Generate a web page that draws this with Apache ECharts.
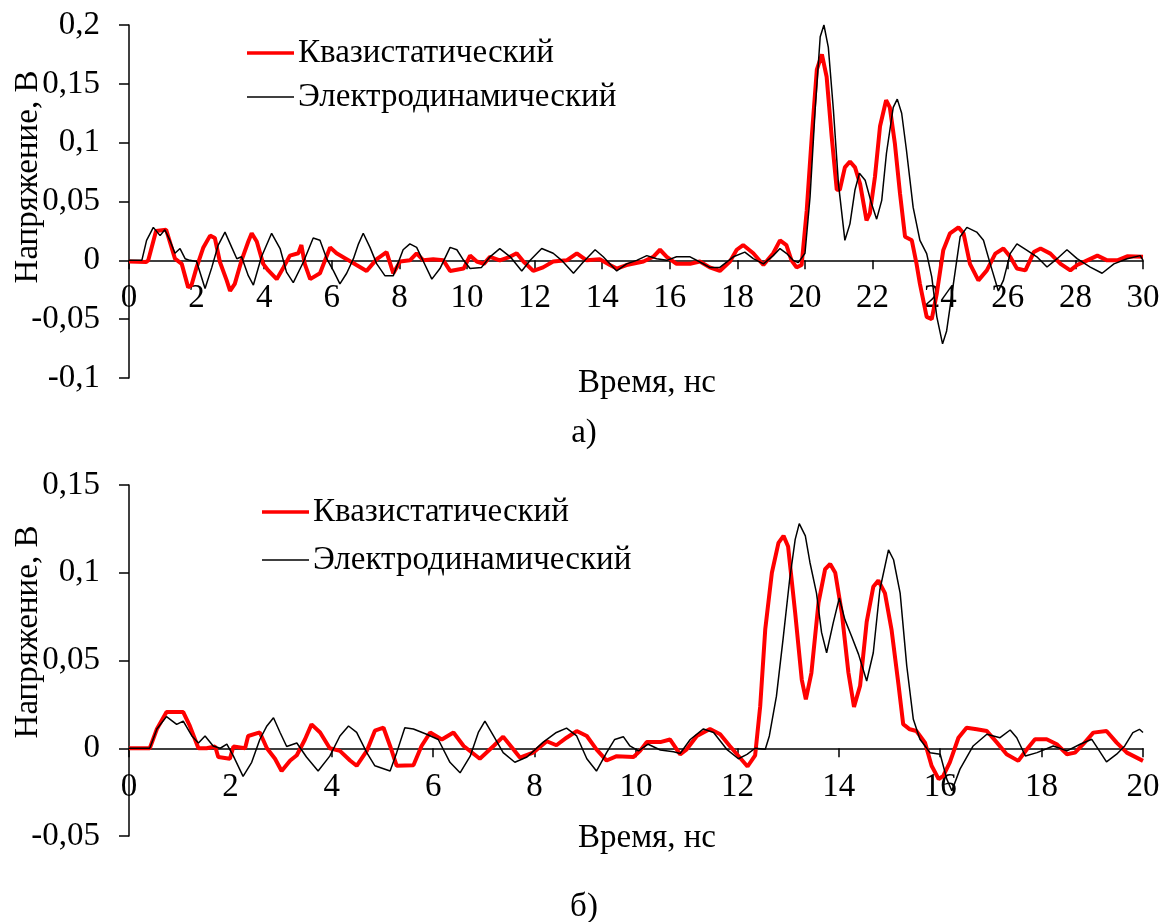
<!DOCTYPE html>
<html>
<head>
<meta charset="utf-8">
<script src="https://cdn.jsdelivr.net/npm/echarts@6/dist/echarts.min.js"></script>
<style>
html,body{margin:0;padding:0;background:#fff;}
#c{width:1169px;height:922px;}
</style>
</head>
<body>
<div id="c"></div>
<script>
// ---- Chart а) ----
const quasiA_t = [0,0.5,0.57,0.8,1.1,1.36,1.56,1.75,1.85,2.0,2.2,2.4,2.54,2.69,2.89,2.99,3.13,3.33,3.53,3.63,3.78,3.97,4.12,4.37,4.57,4.76,5.01,5.1,5.2,5.36,5.65,5.95,6.14,6.44,6.73,7.03,7.33,7.62,7.82,8.02,8.31,8.51,8.71,9.0,9.3,9.5,9.9,10.09,10.29,10.5,10.68,10.97,11.27,11.47,11.67,11.96,12.25,12.55,12.95,13.25,13.54,13.93,14.23,14.43,14.72,15.22,15.51,15.71,15.91,16.2,16.6,16.89,17.18,17.48,17.78,17.98,18.17,18.47,18.77,19.06,19.26,19.45,19.6,19.75,19.9,20.05,20.2,20.35,20.5,20.64,20.79,20.94,21.03,21.18,21.33,21.48,21.63,21.82,21.92,22.07,22.22,22.4,22.51,22.66,22.81,22.96,23.16,23.3,23.4,23.6,23.75,23.9,24.09,24.29,24.54,24.69,24.88,25.13,25.38,25.63,25.87,26.07,26.27,26.52,26.77,26.97,27.26,27.56,27.85,28.05,28.35,28.65,28.94,29.24,29.53,30];
const quasiA_v = [-0.001,-0.0015,0.0,0.025,0.026,0.0014,-0.003,-0.023,-0.021,-0.006,0.011,0.021,0.019,-0.0014,-0.017,-0.026,-0.02,0,0.016,0.023,0.016,-0.003,-0.0086,-0.016,-0.006,0.004,0.006,0.013,-0.003,-0.016,-0.011,0.011,0.006,0.001,-0.004,-0.009,0.001,0.007,-0.011,-0.001,0,0.006,0,0.001,0,-0.009,-0.007,0.004,-0.001,-0.003,0.003,0,0.003,0.006,-0.001,-0.009,-0.006,-0.001,0,0.006,0,0.001,-0.004,-0.007,-0.004,-0.001,0.003,0.009,0.003,-0.003,-0.003,-0.001,-0.006,-0.009,-0.001,0.009,0.013,0.006,-0.004,0.006,0.017,0.013,0.0,-0.006,-0.004,0.042,0.105,0.162,0.175,0.156,0.105,0.06,0.06,0.079,0.084,0.079,0.065,0.034,0.04,0.071,0.114,0.136,0.13,0.099,0.057,0.02,0.017,-0.003,-0.02,-0.048,-0.05,-0.028,0.0085,0.023,0.028,0.023,-0.003,-0.017,-0.0085,0.0057,0.01,0.003,-0.007,-0.0085,0.007,0.01,0.0057,-0.003,-0.0085,-0.004,0,0.004,0,0,0.0034,0.003];

const electroA_t = [0,0.38,0.52,0.72,0.92,1.06,1.21,1.36,1.51,1.66,1.8,2.0,2.25,2.45,2.64,2.84,3.04,3.19,3.33,3.53,3.68,3.92,4.22,4.47,4.66,4.86,5.16,5.45,5.65,5.85,6.05,6.24,6.44,6.64,6.79,6.93,7.13,7.33,7.57,7.82,8.11,8.31,8.51,8.71,8.96,9.2,9.5,9.7,9.9,10.09,10.43,10.68,10.97,11.28,11.62,11.87,12.21,12.55,12.8,13.15,13.44,13.79,14.03,14.43,14.72,15.02,15.32,15.61,15.91,16.2,16.6,16.89,17.18,17.48,17.88,18.22,18.47,18.77,19.06,19.26,19.45,19.65,19.8,20.0,20.15,20.3,20.45,20.56,20.69,20.84,20.99,21.18,21.33,21.48,21.61,21.78,21.97,22.12,22.27,22.41,22.61,22.73,22.86,23.0,23.2,23.4,23.6,23.75,23.9,24.07,24.19,24.39,24.59,24.79,25.08,25.28,25.48,25.72,25.87,26.07,26.27,26.57,26.86,27.16,27.46,27.75,28.05,28.44,28.79,29.14,29.53,29.92,30];
const electroA_v = [0,0,0.017,0.028,0.021,0.026,0.017,0.006,0.01,0.0014,0,-0.001,-0.024,-0.006,0.013,0.024,0.011,0.0014,0.003,-0.013,-0.021,0.003,0.023,0.01,-0.01,-0.019,-0.0014,0.019,0.017,0.0014,-0.009,-0.02,-0.011,0.0014,0.014,0.023,0.011,-0.003,-0.013,-0.013,0.009,0.014,0.011,-0.001,-0.016,-0.007,0.011,0.009,0,-0.007,-0.006,0.003,0.01,0.003,-0.009,0,0.01,0.006,0,-0.011,-0.0014,0.009,0.003,-0.009,-0.003,0,0.004,0.0014,0,0.003,0.003,-0.0014,-0.006,-0.006,0.003,0.007,0.0014,-0.003,0.004,0.01,0.006,0,-0.002,0.006,0.054,0.128,0.19,0.2,0.181,0.128,0.065,0.017,0.031,0.06,0.074,0.068,0.048,0.035,0.051,0.091,0.13,0.137,0.125,0.094,0.045,0.017,0.0057,-0.014,-0.048,-0.071,-0.06,-0.02,0.02,0.028,0.024,0.017,-0.003,-0.026,-0.017,0.0057,0.014,0.0085,0.003,-0.0057,0.0014,0.009,0.0014,-0.0057,-0.011,-0.003,0.0014,0.004,0];

// ---- Chart б) ----
const quasiB_t = [0,0.41,0.55,0.74,1.07,1.2,1.37,1.53,1.7,1.76,1.99,2.06,2.29,2.35,2.58,2.72,2.88,3.01,3.18,3.31,3.47,3.6,3.77,3.96,4.16,4.36,4.49,4.69,4.85,5.02,5.15,5.28,5.61,5.77,5.94,6.17,6.4,6.6,6.92,7.19,7.38,7.58,7.71,7.97,8.24,8.43,8.63,8.83,9.03,9.22,9.42,9.62,9.95,10.08,10.21,10.48,10.67,10.87,11.0,11.2,11.46,11.66,11.85,12.2,12.35,12.45,12.55,12.68,12.81,12.91,13.0,13.14,13.27,13.35,13.46,13.6,13.73,13.83,13.93,14.06,14.19,14.3,14.42,14.55,14.68,14.78,14.91,15.04,15.18,15.27,15.4,15.53,15.7,15.83,15.97,16.06,16.19,16.36,16.52,16.72,16.92,17.12,17.31,17.54,17.71,17.87,18.1,18.3,18.5,18.66,18.82,19.02,19.28,19.48,19.68,20];
const quasiB_v = [0,0,0.011,0.0206,0.0206,0.0127,0,0,0.001,-0.005,-0.006,0.001,0,0.007,0.009,0,-0.006,-0.013,-0.007,-0.004,0.005,0.0136,0.009,0,-0.0015,-0.007,-0.01,-0.0015,0.01,0.0117,0.0013,-0.01,-0.0097,0.0013,0.009,0.005,0.009,0.0013,-0.006,0.0013,0.0066,-0.0006,-0.0053,-0.0025,0.004,0.0017,0.006,0.0098,0.007,-0.0006,-0.007,-0.0045,-0.005,-0.0015,0.0035,0.0035,0.005,-0.0035,-0.0006,0.007,0.011,0.008,0.0013,-0.0104,-0.004,0.024,0.068,0.1,0.117,0.121,0.115,0.077,0.039,0.0278,0.043,0.083,0.102,0.105,0.1,0.077,0.043,0.0236,0.0356,0.072,0.092,0.0956,0.0884,0.0676,0.0356,0.0137,0.0108,0.0098,0.0032,-0.01,-0.0176,-0.0157,-0.0081,0.006,0.0117,0.0108,0.0098,0.0032,-0.0034,-0.0072,-0.0006,0.0051,0.0051,0.0023,-0.0034,-0.0025,0.0023,0.0089,0.0098,0.0032,-0.0025,-0.0072];

const electroB_t = [0,0.41,0.55,0.74,0.94,1.07,1.24,1.37,1.5,1.66,1.8,1.93,2.06,2.25,2.42,2.58,2.72,2.85,2.98,3.11,3.31,3.5,3.73,3.96,4.16,4.33,4.49,4.69,4.85,5.15,5.28,5.44,5.61,5.87,6.1,6.33,6.53,6.73,6.89,7.02,7.19,7.38,7.61,7.85,8.17,8.43,8.63,8.83,9.03,9.22,9.42,9.58,9.75,9.88,10.05,10.24,10.48,10.74,10.87,11.07,11.33,11.53,11.79,12.02,12.19,12.35,12.55,12.63,12.77,12.9,13.03,13.14,13.22,13.34,13.43,13.56,13.66,13.76,13.89,14.01,14.12,14.25,14.39,14.55,14.68,14.81,14.98,15.08,15.21,15.34,15.47,15.6,15.8,16.0,16.13,16.23,16.39,16.65,16.92,17.18,17.38,17.51,17.68,17.91,18.23,18.5,18.76,18.99,19.12,19.28,19.48,19.64,19.8,19.93,20];
const electroB_v = [0,0,0.011,0.018,0.0136,0.0155,0.007,0.003,0.007,0.0013,0,0.0023,-0.0045,-0.016,-0.008,0.005,0.0127,0.0174,0.009,0.001,0.003,-0.005,-0.013,-0.0045,0.007,0.0127,0.009,-0.0025,-0.01,-0.013,-0.0025,0.0117,0.011,0.008,0.005,-0.008,-0.014,-0.0045,0.009,0.0155,0.007,-0.0025,-0.008,-0.005,0.0035,0.009,0.0115,0.007,-0.006,-0.013,-0.0025,0.005,0.0066,0.0013,-0.0015,0.0023,-0.001,-0.002,-0.003,0.005,0.011,0.009,-0.0006,-0.006,-0.0035,0,-0.0006,0.007,0.0297,0.062,0.096,0.119,0.128,0.121,0.106,0.0884,0.066,0.0544,0.0714,0.0856,0.0733,0.064,0.0535,0.0383,0.0544,0.0903,0.113,0.1074,0.0884,0.047,0.0165,0.0051,-0.0025,-0.0034,-0.0176,-0.0242,-0.0119,0.0013,0.008,0.006,0.0104,0.006,-0.0044,-0.0025,0.0013,-0.0015,0.0023,0.0051,-0.0006,-0.0078,-0.0034,0.0013,0.0089,0.0108,0.009];

const seriesNames = ['Квазистатический', 'Электродинамический'];
const xNameText = 'Время, нс';
const yNameText = 'Напряжение, В';
const captions = ['а)', 'б)'];

function zip(t, v) { return t.map((x, i) => [x, v[i]]); }

const FONT = 'Liberation Serif';
const FS = 33;
const RED = '#ff0000';
const BLACK = '#000000';
const fmt = v => String(+v.toFixed(3)).replace('.', ',');

// grid geometry (pixels)
const G1 = { top: 25, height: 353 };
const G2 = { top: 485, height: 351 };
const Y1 = { min: -0.1, max: 0.2 };
const Y2 = { min: -0.05, max: 0.15 };
// distance (px) from grid bottom up to the zero line, so the time axis sits at y = 0
function zeroOffset(g, y) { return -g.height * (0 - y.min) / (y.max - y.min); }

function xAxis(gi, max, offset, margin) {
  return {
    type: 'value', gridIndex: gi, min: 0, max: max, interval: 2,
    position: 'bottom', offset: offset,
    axisLine: { onZero: false, lineStyle: { color: '#000', width: 1.5 } },
    axisTick: { show: true, inside: false, length: 9, lineStyle: { color: '#000', width: 1.5 } },
    axisLabel: { color: '#000', fontSize: FS, fontFamily: FONT, margin: margin },
    splitLine: { show: false }
  };
}
function yAxis(gi, y) {
  return {
    type: 'value', gridIndex: gi, min: y.min, max: y.max, interval: 0.05,
    axisLine: { show: true, onZero: false, lineStyle: { color: '#000', width: 1.5 } },
    axisTick: { show: true, inside: false, length: 10, lineStyle: { color: '#000', width: 1.5 } },
    axisLabel: { color: '#000', fontSize: FS, fontFamily: FONT, margin: 29, formatter: fmt },
    splitLine: { show: false }
  };
}
function lineSeries(name, gi, data, color, width) {
  return {
    name: name, type: 'line', xAxisIndex: gi, yAxisIndex: gi,
    data: data, showSymbol: false, symbol: 'none', smooth: false,
    lineStyle: { color: color, width: width }, itemStyle: { color: color },
    animation: false
  };
}
function gtext(x, y, text, size, rot, align) {
  return {
    type: 'text', x: x, y: y, rotation: rot || 0,
    style: { text: text, fill: '#000', fontSize: size, fontFamily: FONT, align: align || 'center', verticalAlign: 'middle' }
  };
}
function gline(x1, x2, y, color, w) {
  return { type: 'line', shape: { x1: x1, y1: y, x2: x2, y2: y }, style: { stroke: color, lineWidth: w } };
}
// legend block: line swatch + label for each series
function legendBlock(left, top1, top2) {
  return [
    gline(left, left + 47, top1, RED, 3.5),
    gtext(left + 51, top1, seriesNames[0], FS, 0, 'left'),
    gline(left, left + 47, top2, BLACK, 1.5),
    gtext(left + 51, top2, seriesNames[1], FS, 0, 'left')
  ];
}

const chart = echarts.init(document.getElementById('c'), null, { renderer: 'canvas' });
chart.setOption({
  animation: false,
  backgroundColor: '#fff',
  grid: [
    { left: 129, top: G1.top, width: 1014, height: G1.height, containLabel: false, outerBoundsMode: 'none' },
    { left: 129, top: G2.top, width: 1014, height: G2.height, containLabel: false, outerBoundsMode: 'none' }
  ],
  xAxis: [xAxis(0, 30, zeroOffset(G1, Y1), 21), xAxis(1, 20, zeroOffset(G2, Y2), 23)],
  yAxis: [yAxis(0, Y1), yAxis(1, Y2)],
  series: [
    lineSeries(seriesNames[0], 0, zip(quasiA_t, quasiA_v), RED, 4),
    lineSeries(seriesNames[1], 0, zip(electroA_t, electroA_v), BLACK, 1.5),
    lineSeries(seriesNames[0], 1, zip(quasiB_t, quasiB_v), RED, 4),
    lineSeries(seriesNames[1], 1, zip(electroB_t, electroB_v), BLACK, 1.5)
  ],
  graphic: [
    gtext(647, 383, xNameText, FS),
    gtext(647, 838, xNameText, FS),
    gtext(584, 433, captions[0], FS),
    gtext(584, 907, captions[1], FS),
    gtext(28, 177, yNameText, FS, Math.PI / 2),
    gtext(28, 632, yNameText, FS, Math.PI / 2)
  ].concat(legendBlock(247, 53, 97), legendBlock(262, 512, 560))
});
</script>
</body>
</html>
